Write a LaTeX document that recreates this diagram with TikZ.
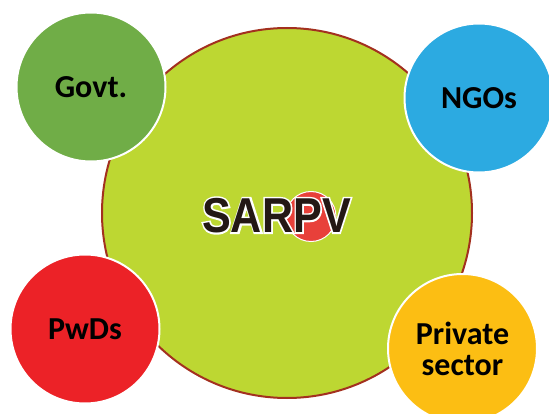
\documentclass[tikz,border=0pt]{standalone}
\usepackage{fontspec}
\setmainfont{Carlito}
\newfontfamily\titlefont{Liberation Sans}
\definecolor{hubfill}{HTML}{BDD732}
\definecolor{hubrim}{HTML}{A3301F}
\definecolor{govtgreen}{HTML}{70AD47}
\definecolor{ngoblue}{HTML}{2CAAE1}
\definecolor{pwdred}{HTML}{EC2227}
\definecolor{privgold}{HTML}{FCBE13}
\definecolor{dotred}{HTML}{E8403A}
\definecolor{inkbrown}{HTML}{231815}
% bold, slightly condensed acronym type
\newcommand{\hubtitle}[1]{\scalebox{0.88}[1]{\titlefont\bfseries\fontsize{49}{49}\selectfont #1}}
% the same text drawn as a thick outline only (PDF text render mode 1)
\newcommand{\hubhalo}[1]{\special{pdf:literal 1 Tr 3.6 w}\hubtitle{#1}\special{pdf:literal 0 Tr}}
\begin{document}
\begin{tikzpicture}[x=1pt,y=-1pt,
  hub/.style={circle, draw=hubrim, line width=2pt, fill=hubfill, minimum size=370pt, inner sep=0pt},
  member/.style={circle, draw=white, line width=2pt, minimum size=149pt, inner sep=0pt,
    font=\bfseries\fontsize{32}{31}\selectfont, align=center, text=black},
  dot/.style={circle, draw=white, line width=1pt, fill=dotred, minimum size=50pt, inner sep=0pt}]
\useasboundingbox (0,0) rectangle (549,414);
\clip (0,0) rectangle (549,414);
% central circle
\node[hub] (hub) at (287,213) {};
% red dot behind the acronym
\node[dot] (dot) at (311,216.5) {};
% acronym: white outline underneath, dark fill on top
\node[text=white] (halo) at (276.5,215.5) {\hubhalo{SARPV}};
\node[text=inkbrown] (title) at (276.5,215.5) {\hubtitle{SARPV}};
% stakeholder circles
\node[member, fill=govtgreen] (govt) at (91,87) {Govt.};
\node[member, fill=ngoblue] (ngo) at (479,98) {NGOs};
\node[member, fill=pwdred] (pwd) at (85,329) {PwDs};
\node[member, fill=privgold] (priv) at (462.5,348.5) {Private\\sector};
\end{tikzpicture}
\end{document}
